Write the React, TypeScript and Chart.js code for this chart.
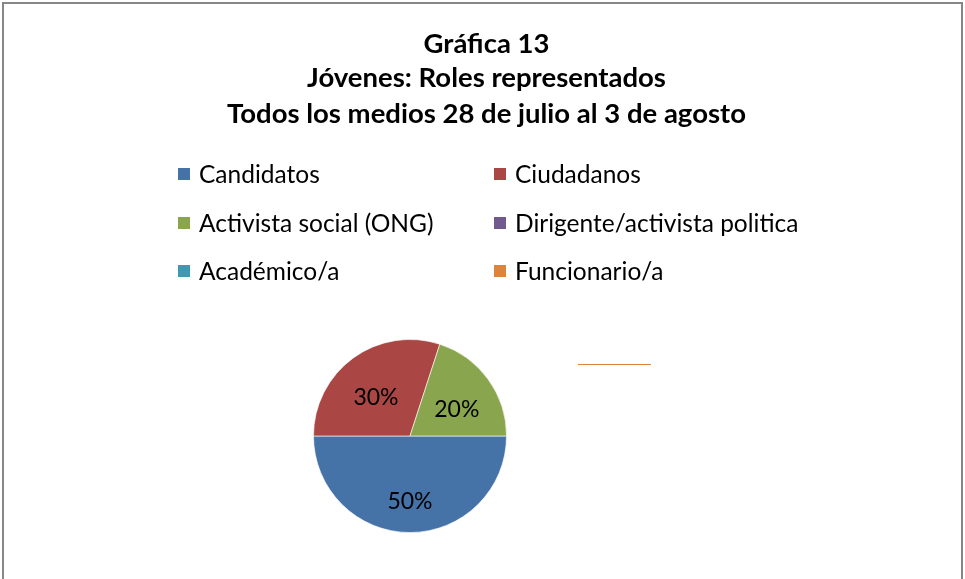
import React, { useEffect, useRef } from "react";
import { Chart, registerables } from "chart.js";

Chart.register(...registerables);

const titleLines = ["Gráfica 13", "Jóvenes: Roles representados", "Todos los medios 28 de julio al 3 de agosto"];
const categories = ["Candidatos", "Ciudadanos", "Activista social (ONG)", "Dirigente/activista politica", "Académico/a", "Funcionario/a"];
const values = [50, 30, 20, 0, 0, 0];
const colors = ["#4572A7", "#AA4643", "#89A54E", "#71588F", "#4198AF", "#DB843D"];

const FONT = "Lato, 'Open Sans', sans-serif";

const decorPlugin = {
  id: "decor",
  beforeDraw(chart: any) {
    const { ctx, width, height } = chart;
    ctx.save();
    ctx.fillStyle = "#ffffff";
    ctx.fillRect(0, 0, width, height);
    ctx.strokeStyle = "#878787";
    ctx.lineWidth = 2;
    ctx.strokeRect(3, 3, width - 6, height - 2);
    ctx.restore();
  },
  afterDraw(chart: any) {
    const { ctx, width } = chart;
    ctx.save();
    // Title
    ctx.fillStyle = "#000";
    ctx.textAlign = "center";
    ctx.textBaseline = "middle";
    ctx.font = `bold 27.5px ${FONT}`;
    const titleY = [44, 78, 114];
    titleLines.forEach((t, i) => ctx.fillText(t, width / 2 + 4, titleY[i]));
    // Legend: 2 columns
    ctx.font = `24.5px ${FONT}`;
    ctx.textAlign = "left";
    const colX = [178, 494];
    const rowY = [174, 223, 271];
    categories.forEach((c, i) => {
      const x = colX[i % 2];
      const y = rowY[Math.floor(i / 2)];
      ctx.fillStyle = colors[i];
      ctx.fillRect(x, y - 6, 12, 12);
      ctx.fillStyle = "#000";
      ctx.fillText(c, x + 21, y + 1);
    });
    // Data labels
    const meta = chart.getDatasetMeta(0);
    ctx.textAlign = "center";
    ctx.font = `23px ${FONT}`;
    let cx = 0, cy = 0, r = 0;
    meta.data.forEach((arc: any, i: number) => {
      const p = arc.getProps(["x", "y", "startAngle", "endAngle", "outerRadius"], true);
      cx = p.x; cy = p.y; r = p.outerRadius;
      if (!values[i]) return;
      const mid = (p.startAngle + p.endAngle) / 2;
      const lr = p.outerRadius * 0.6;
      ctx.fillStyle = "#000";
      ctx.fillText(values[i] + "%", p.x + Math.cos(mid) * lr, p.y + Math.sin(mid) * lr + 8);
    });
    // leader line artifact for zero-value labels
    const ly = Math.round(cy - r * 0.75) + 0.5;
    ctx.strokeStyle = colors[5];
    ctx.lineWidth = 1;
    ctx.beginPath();
    ctx.moveTo(Math.round(cx + r * 1.74), ly);
    ctx.lineTo(Math.round(cx + r * 2.5), ly);
    ctx.stroke();
    ctx.restore();
  },
};

export default function App() {
  const ref = useRef<HTMLCanvasElement>(null);
  useEffect(() => {
    document.body.style.margin = "0";
    const chart = new Chart(ref.current!, {
      type: "pie",
      data: {
        labels: categories,
        datasets: [
          {
            data: values,
            backgroundColor: colors,
            borderColor: "rgba(255,255,255,0.6)",
            borderWidth: 1,
          },
        ],
      },
      options: {
        animation: false,
        responsive: false,
        rotation: 90,
        layout: { padding: { top: 339, bottom: 46, left: 313, right: 458 } },
        plugins: { legend: { display: false }, title: { display: false }, tooltip: { enabled: false } },
      },
      plugins: [decorPlugin],
    });
    return () => chart.destroy();
  }, []);
  return (
    <div style={{ width: 965, height: 579 }}>
      <canvas ref={ref} width={965} height={579} style={{ display: "block" }} />
    </div>
  );
}
